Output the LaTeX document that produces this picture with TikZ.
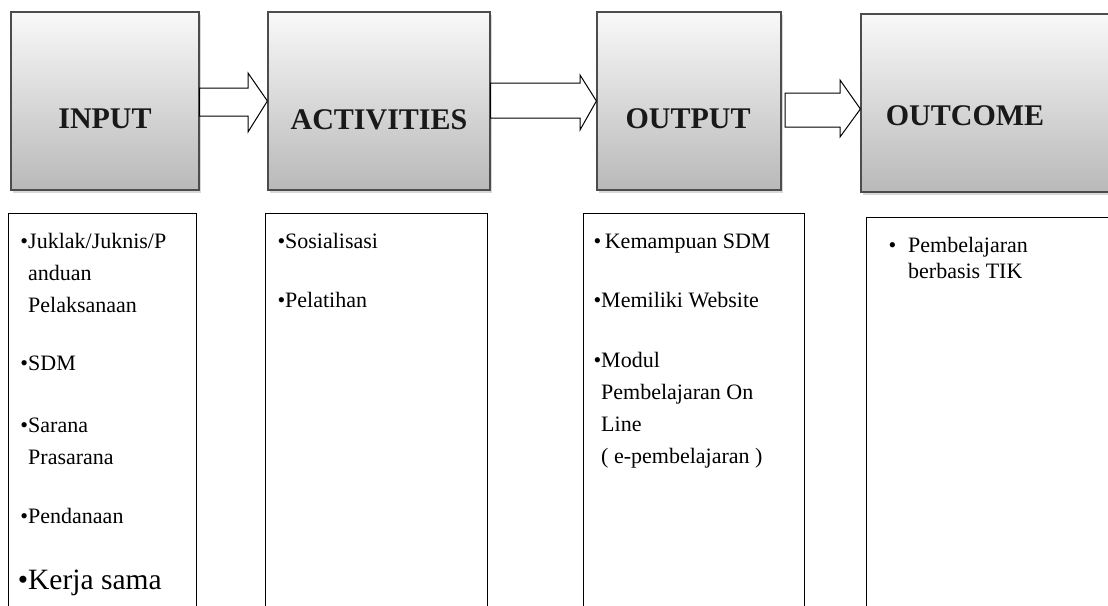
\documentclass[tikz,border=0pt]{standalone}
\usepackage{fontspec}
\setmainfont{Liberation Serif}
\usetikzlibrary{shadows,calc,positioning}

\tikzset{
  headbox/.style={draw=gray!60!black, line width=1.2pt, top color=gray!5, bottom color=gray!55,
    minimum height=178pt, drop shadow={shadow xshift=2pt, shadow yshift=-3pt, fill=gray!60}},
  headtext/.style={font=\fontsize{30}{36}\selectfont\bfseries, text=black!90},
  listbox/.style={draw, line width=1.3pt, anchor=north west, minimum height=420pt},
  listtext/.style={anchor=north west, align=left, inner sep=0pt, font=\fontsize{22}{32}\selectfont},
  blockarr/.style={draw=black, line width=1pt, fill=white},
}

\begin{document}
\begin{tikzpicture}[x=1pt, y=-1pt]
    \clip (0,0) rectangle (1108,605);

    \node[headbox, minimum width=188pt] (inp) at (105,101) {};
    \node[headbox, minimum width=222pt] (act) at (379,101) {};
    \node[headbox, minimum width=184pt] (outp) at (689,101) {};
    \node[headbox, minimum width=256pt] (outc) at (989,103) {};

    \node[headtext] (inpt) at (105,119) {INPUT};
    \node[headtext] (actt) at (379,120) {ACTIVITIES};
    \node[headtext] (outpt) at (688,119) {OUTPUT};
    \node[headtext] (outct) at (965,116) {OUTCOME};

    \draw[blockarr] (inp.east |- 0,88) -- (248,88) -- (248,73) -- (act.west)
        -- (248,132) -- (248,116) -- (inp.east |- 0,116) -- cycle;
    \draw[blockarr] (act.east |- 0,83) -- (580,83) -- (580,75) -- (outp.west)
        -- (580,130) -- (580,118) -- (act.east |- 0,118) -- cycle;
    \draw[blockarr] (785,93) -- (840,93) -- (840,80) -- (outc.west |- 0,109)
        -- (840,137) -- (840,127) -- (785,127) -- cycle;

    \node[listbox, minimum width=188pt] (inpl) at (8,213) {};
    \node[listbox, minimum width=222pt] (actl) at (265,213) {};
    \node[listbox, minimum width=221pt] (outpl) at (583,213) {};
    \node[listbox, minimum width=260pt] (outcl) at (866,217) {};

    % top of each text = baseline - 22.4 (strut)
    \node[listtext] (in1) at (28,225.6) {\strut\llap{•}Juklak/Juknis/P\\anduan\\Pelaksanaan};
    \node[listtext] (in2) at (28,347.6) {\strut\llap{•}SDM};
    \node[listtext] (in3) at (28,409.6) {\strut\llap{•}Sarana\\Prasarana};
    \node[listtext] (in4) at (28,500.6) {\strut\llap{•}Pendanaan};
    \node[listtext, font=\fontsize{29.5}{32}\selectfont] (in5) at (28,566.6) {\strut\llap{•}Kerja sama};

    \node[listtext] (ac1) at (285,225.6) {\strut\llap{•}Sosialisasi};
    \node[listtext] (ac2) at (285,284.6) {\strut\llap{•}Pelatihan};

    \node[listtext] (op1) at (601,225.6) {\strut\llap{•}\,Kemampuan SDM};
    \node[listtext] (op2) at (601,284.6) {\strut\llap{•}Memiliki Website};
    \node[listtext] (op3) at (601,344.6) {\strut\llap{•}Modul\\Pembelajaran On\\Line\\( e-pembelajaran )};

    \node[listtext, font=\fontsize{22}{26}\selectfont] (oc1) at (908,233.8)
        {\strut\llap{•\hspace{12pt}}Pembelajaran\\berbasis TIK};
\end{tikzpicture}
\end{document}
